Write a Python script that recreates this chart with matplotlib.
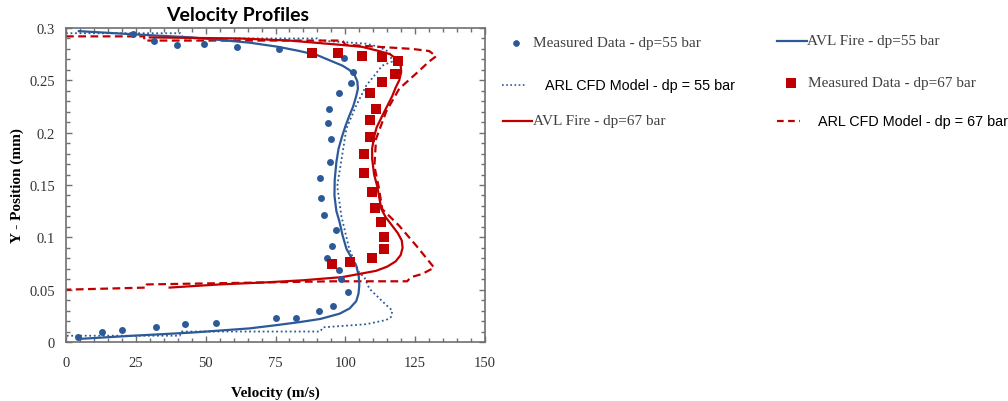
import matplotlib
matplotlib.use("Agg")
import matplotlib.pyplot as plt
from matplotlib.lines import Line2D
from matplotlib.ticker import MultipleLocator

# measured data, dp = 55 bar (blue circles)
meas55_v = [23.9, 31.4, 39.6, 49.3, 61.1, 76.4, 99.6, 102.9, 102.1, 97.9, 94.3, 93.9, 95.0, 94.6,
            91.1, 91.4, 92.5, 96.8, 95.4, 93.6, 97.9, 98.6, 101.1, 95.7, 90.7, 82.5, 75.0, 53.6,
            42.5, 32.1, 20.0, 12.9, 4.3]
meas55_y = [0.294, 0.288, 0.284, 0.285, 0.282, 0.280, 0.271, 0.258, 0.247, 0.238, 0.223, 0.209,
            0.194, 0.172, 0.157, 0.138, 0.121, 0.107, 0.092, 0.080, 0.069, 0.060, 0.048, 0.034,
            0.030, 0.023, 0.023, 0.018, 0.017, 0.014, 0.011, 0.010, 0.005]

# measured data, dp = 67 bar (red squares)
meas67_v = [87.9, 97.5, 106.1, 113.2, 118.9, 117.9, 113.2, 108.9, 111.1, 108.9, 108.9, 106.8,
            106.8, 109.6, 110.7, 112.9, 113.9, 113.9, 109.6, 101.8, 95.4]
meas67_y = [0.276, 0.276, 0.273, 0.272, 0.268, 0.256, 0.248, 0.238, 0.223, 0.212, 0.196, 0.180,
            0.161, 0.143, 0.128, 0.115, 0.100, 0.089, 0.080, 0.076, 0.075]

# AVL Fire, dp = 55 bar
avl55_v = [4.6, 24, 45, 65.7, 76, 83.6, 90, 95.4, 99, 101.4, 103.3, 104.3, 104.5, 103.9, 102.8,
           101.4, 100, 98.9, 97.6, 96.8, 96.2, 96.1, 96.8, 97.9, 99, 100.4, 102.3, 103.9, 104.8,
           105, 104.7, 103.9, 101.5, 97.9, 91, 83.6, 75, 65.7, 45, 24, 5]
avl55_y = [0.297, 0.294, 0.291, 0.286, 0.282, 0.278, 0.274, 0.268, 0.264, 0.260, 0.255, 0.249,
           0.242, 0.235, 0.225, 0.216, 0.206, 0.197, 0.185, 0.172, 0.155, 0.140, 0.125, 0.115,
           0.102, 0.089, 0.080, 0.073, 0.063, 0.054, 0.046, 0.039, 0.032, 0.027, 0.022, 0.019,
           0.016, 0.013, 0.009, 0.006, 0.003]

# ARL CFD model, dp = 55 bar
arl55_v = [0, 41, 42, 90, 91, 107.5, 112, 115.7, 116.8, 113.2, 107.5, 103.9, 100.4, 97.1, 98.6,
           101.4, 105, 106.8, 108.6, 113.2, 116.8, 116.4, 114.6, 107.5, 92, 91, 41.4, 40.7, 0]
arl55_y = [0.295, 0.295, 0.290, 0.290, 0.288, 0.285, 0.282, 0.277, 0.268, 0.264, 0.245, 0.226,
           0.204, 0.149, 0.120, 0.089, 0.066, 0.062, 0.051, 0.039, 0.030, 0.024, 0.021, 0.017,
           0.014, 0.010, 0.010, 0.006, 0.006]

# AVL Fire, dp = 67 bar
avl67_v = [30, 62, 80, 97.9, 106, 112, 116, 118.5, 119.8, 120, 119.3, 118, 116.8, 113.2, 111.2,
           110.4, 109.6, 109.6, 110.3, 111.4, 112.9, 114.5, 116.8, 118.8, 120.2, 120.5, 119.8,
           118, 115, 111, 105, 98.9, 85, 71.8, 55, 37.1]
avl67_y = [0.291, 0.290, 0.288, 0.284, 0.282, 0.278, 0.275, 0.270, 0.265, 0.258, 0.250, 0.243,
           0.235, 0.216, 0.205, 0.197, 0.185, 0.175, 0.160, 0.149, 0.127, 0.119, 0.111, 0.104,
           0.097, 0.090, 0.083, 0.077, 0.072, 0.068, 0.065, 0.062, 0.059, 0.057, 0.055, 0.052]

# ARL CFD model, dp = 67 bar
arl67_v = [0, 28, 28, 99, 100, 112, 124, 130, 132.5, 130, 126.4, 119.3, 114.6, 111, 110.4, 112.1,
           113.2, 119.3, 125.4, 131.8, 127.5, 123.6, 122.1, 95.4, 28.9, 28.9, 0]
arl67_y = [0.292, 0.292, 0.288, 0.288, 0.284, 0.282, 0.280, 0.278, 0.273, 0.268, 0.259, 0.242,
           0.220, 0.194, 0.168, 0.146, 0.127, 0.111, 0.092, 0.071, 0.065, 0.062, 0.058, 0.058,
           0.055, 0.052, 0.050]

blue = "#2c5a98"
red = "#c00000"
serif = ["Liberation Serif", "DejaVu Serif"]
sans = ["Liberation Sans", "DejaVu Sans"]

W, H = 1008, 402
fig = plt.figure(figsize=(W / 100, H / 100), dpi=100)
ax = fig.add_axes([66 / W, 1 - 343 / H, (485 - 66) / W, (343 - 29) / H])

ax.plot(arl55_v, arl55_y, color=blue, lw=1.3, ls=(0, (1, 1.5)))
ax.plot(arl67_v, arl67_y, color=red, lw=1.6, ls=(0, (3.5, 2)))
ax.plot(avl55_v, avl55_y, color=blue, lw=1.6)
ax.plot(avl67_v, avl67_y, color=red, lw=1.6)
ax.plot(meas55_v, meas55_y, "o", color=blue, ms=5, mew=0, ls="none")
ax.plot(meas67_v, meas67_y, "s", color=red, ms=7, mew=0, ls="none")

ax.set_xlim(0, 150)
ax.set_ylim(0, 0.3)
ax.xaxis.set_major_locator(MultipleLocator(25))
ax.xaxis.set_minor_locator(MultipleLocator(5))
ax.yaxis.set_major_locator(MultipleLocator(0.05))
ax.yaxis.set_minor_locator(MultipleLocator(0.01))
ax.yaxis.set_major_formatter(plt.FuncFormatter(lambda v, p: "0" if v == 0 else f"{v:g}"))
ax.tick_params(which="both", direction="in", top=True, right=True, color="#707070",
               labelsize=10.5, labelcolor="#333333")
ax.tick_params(which="major", length=4, width=1)
ax.tick_params(which="minor", length=3, width=1)
ax.tick_params(axis="y", pad=8)
ax.tick_params(axis="x", pad=10)
for lab in ax.get_xticklabels() + ax.get_yticklabels():
    lab.set_family(serif)
for s in ax.spines.values():
    s.set_color("#707070")
    s.set_linewidth(1.2)

ax.set_xlabel("Velocity (m/s)", family=serif, fontweight="bold", fontsize=11, labelpad=12)
ax.set_ylabel("Y - Position (mm)", family=serif, fontweight="bold", fontsize=11, labelpad=4)
fig.text(238 / W, 1 - 16 / H, "Velocity Profiles", ha="center", va="center",
         family=["Lato", "DejaVu Sans"], fontweight="bold", fontsize=14)

# legend drawn by hand, two columns
def fx(px):
    return px / W

def fy(py):
    return 1 - py / H

def key(x0, x1, y, **kw):
    fig.add_artist(Line2D([fx(x0), fx(x1)], [fy(y), fy(y)], transform=fig.transFigure, **kw))

key(516, 516, 44, color=blue, marker="o", ms=4.5, mew=0, ls="none")
fig.text(fx(533), fy(44), "Measured Data - dp=55 bar", family=serif, fontsize=11,
         color="#404040", va="center")
key(502, 526, 86, color=blue, lw=1.2, ls=(0, (1, 1.5)))
fig.text(fx(545), fy(86), "ARL CFD Model - dp = 55 bar", family=sans, fontsize=10.4,
         color="black", va="center")
key(503, 532, 122, color=red, lw=1.6)
fig.text(fx(533), fy(122), "AVL Fire - dp=67 bar", family=serif, fontsize=11,
         color="#404040", va="center")

key(777, 807, 42, color=blue, lw=1.6)
fig.text(fx(807), fy(42), "AVL Fire - dp=55 bar", family=serif, fontsize=11,
         color="#404040", va="center")
key(791, 791, 84, color=red, marker="s", ms=6.5, mew=0, ls="none")
fig.text(fx(808), fy(84), "Measured Data - dp=67 bar", family=serif, fontsize=11,
         color="#404040", va="center")
key(777, 800, 122, color=red, lw=1.6, ls=(0, (3, 2)))
fig.text(fx(818), fy(122), "ARL CFD Model - dp = 67 bar", family=sans, fontsize=10.4,
         color="black", va="center")

fig.savefig("out.png", dpi=100)
